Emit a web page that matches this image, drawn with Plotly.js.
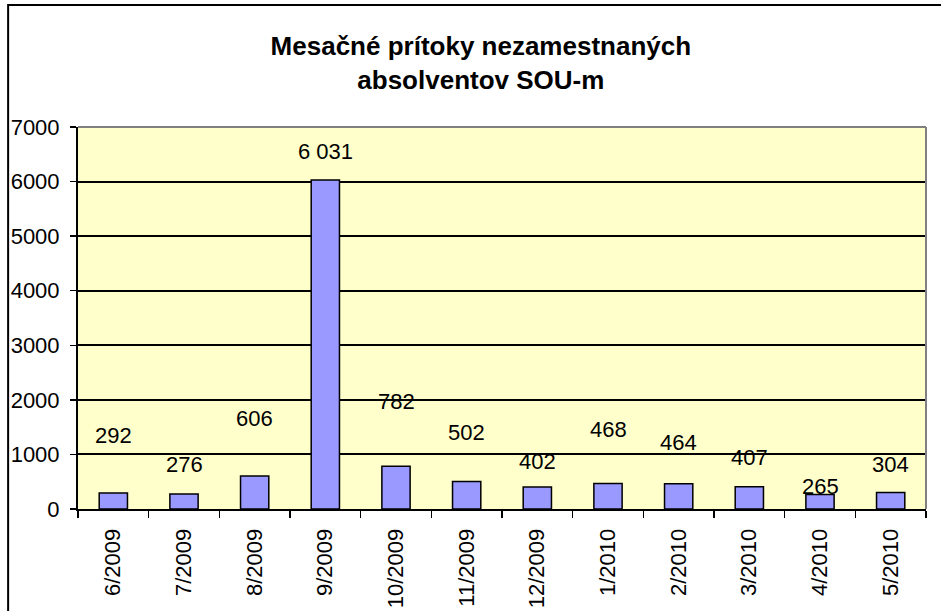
<!DOCTYPE html>
<html>
<head>
<meta charset="utf-8">
<script src="https://cdn.plot.ly/plotly-3.0.1.min.js"></script>
<style>html,body{margin:0;padding:0;background:#fff;}#chart{width:941px;height:611px;}</style>
</head>
<body>
<div id="chart"></div>
<script>
const months = ["6/2009","7/2009","8/2009","9/2009","10/2009","11/2009","12/2009","1/2010","2/2010","3/2010","4/2010","5/2010"];
const inflows = [292, 276, 606, 6031, 782, 502, 402, 468, 464, 407, 265, 304];
const valueLabels = ["292","276","606","6 031","782","502","402","468","464","407","265","304"];
// label offsets (px above bar top), as placed in the original
const labelShift = [58, 29, 57, 28, 65, 49, 26, 54, 41, 29, 8, 28];

const trace = {
  type: "bar",
  x: months,
  y: inflows,
  width: 0.4,
  marker: {color: "#9999FF", line: {color: "#000000", width: 1.5}},
  hoverinfo: "x+y"
};

const font = {family: "Liberation Sans, Arial, sans-serif", color: "#000"};

const annotations = months.map((m, i) => ({
  x: m, y: inflows[i], xref: "x", yref: "y",
  text: valueLabels[i], showarrow: false,
  yshift: labelShift[i], yanchor: "middle",
  font: Object.assign({}, font, {size: 22})
}));

const layout = {
  width: 941, height: 611,
  margin: {l: 78, r: 15, t: 127, b: 102, pad: 0},
  paper_bgcolor: "#ffffff",
  plot_bgcolor: "#FFFFCC",
  showlegend: false,
  bargap: 0.6,
  title: {
    text: "<b>Mesačné prítoky nezamestnaných<br>absolventov SOU-m</b>",
    font: Object.assign({}, font, {size: 26}),
    x: 0.511, xref: "container", xanchor: "center",
    y: 0.91, yref: "container", yanchor: "middle"
  },
  xaxis: {
    type: "category",
    tickson: "boundaries",
    ticks: "outside", ticklen: 7, tickwidth: 1.5, tickcolor: "#000",
    tickangle: -90,
    tickfont: Object.assign({}, font, {size: 22}),
    ticklabelstandoff: 9,
    showline: true, linecolor: "#000", linewidth: 2,
    showgrid: false, zeroline: false, fixedrange: true
  },
  yaxis: {
    range: [0, 7000], dtick: 1000, tick0: 0,
    ticks: "outside", ticklen: 6, tickwidth: 1.5, tickcolor: "#000",
    tickfont: Object.assign({}, font, {size: 22}),
    ticklabelstandoff: 6,
    showline: true, linecolor: "#000", linewidth: 2,
    showgrid: true, gridcolor: "#000", gridwidth: 2,
    zeroline: false, fixedrange: true
  },
  annotations: annotations,
  shapes: [
    {type: "line", xref: "paper", yref: "paper", x0: 0, x1: 1, y0: 1, y1: 1,
     line: {color: "#808080", width: 2}},
    {type: "line", xref: "paper", yref: "paper", x0: 1, x1: 1, y0: 0, y1: 1,
     line: {color: "#808080", width: 2}},
    {type: "rect", xref: "paper", yref: "paper",
     x0: -0.0824, x1: 1.2, y0: -0.5, y1: 1.3194,
     line: {color: "#000", width: 2}, fillcolor: "rgba(0,0,0,0)", layer: "above"}
  ]
};

Plotly.newPlot("chart", [trace], layout, {displayModeBar: false, staticPlot: true});
</script>
</body>
</html>
